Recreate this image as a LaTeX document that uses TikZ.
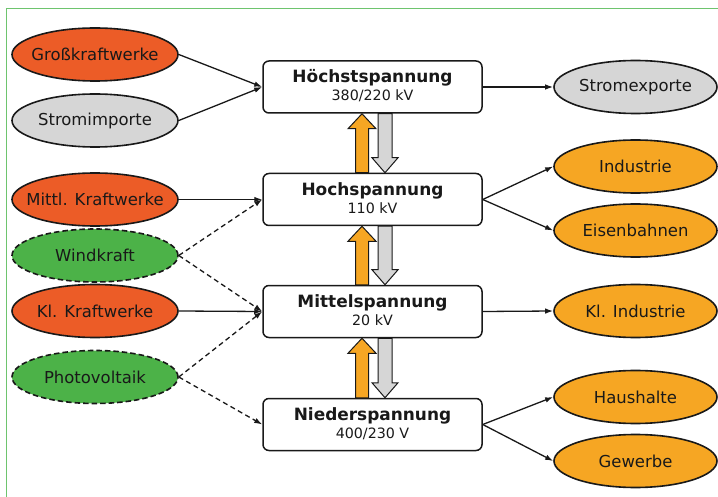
\documentclass[tikz,border=0pt]{standalone}
\usepackage{fontspec}
\setmainfont{DejaVu Sans}
\usetikzlibrary{shapes.geometric,arrows.meta,calc}

\definecolor{plantred}{RGB}{236,92,39}
\definecolor{tradegray}{RGB}{214,214,214}
\definecolor{userorange}{RGB}{246,166,35}
\definecolor{renewgreen}{RGB}{76,178,72}
\definecolor{framegreen}{RGB}{110,196,110}
\definecolor{inkdark}{RGB}{25,25,25}

\tikzset{
  oval/.style={ellipse, draw=inkdark, line width=1.6bp, inner sep=0pt,
    minimum width=166bp, minimum height=53bp},
  ovalr/.style={oval, minimum width=163bp},
  dashedoval/.style={oval, dash pattern=on 5.5bp off 3bp},
  ovaltext/.style={text=inkdark, font=\fontsize{16.5}{19}\selectfont, inner sep=0pt},
  levelbox/.style={rectangle, rounded corners=6bp, draw=inkdark, fill=white,
    line width=1.5bp, minimum width=219bp, minimum height=52bp, inner sep=0pt},
  leveltext/.style={align=center, text=inkdark, inner sep=0pt},
  feed/.style={line width=1.3bp, draw=inkdark, -{Latex[length=8bp,width=5.5bp]}},
  feeddash/.style={feed, dash pattern=on 5bp off 3.5bp},
  blockarrow/.style={draw=inkdark, line width=1bp, line join=miter},
}

% upward block arrow (orange) from the lower box to the upper box
\newcommand{\stepuparrow}[2]{%
  \draw[blockarrow, fill=userorange] let \p1=(#1.north), \p2=(#2.south) in
    (\x1-17bp, \y1) -- (\x1-17bp, \y2-15bp) -- (\x1-24.5bp, \y2-15bp)
    -- (\x1-10.5bp, \y2) -- (\x1+3.5bp, \y2-15bp) -- (\x1-4bp, \y2-15bp)
    -- (\x1-4bp, \y1) -- cycle;}
% downward block arrow (gray) from the upper box to the lower box
\newcommand{\stepdownarrow}[2]{%
  \draw[blockarrow, fill=tradegray] let \p1=(#1.south), \p2=(#2.north) in
    (\x1+5.5bp, \y1) -- (\x1+5.5bp, \y2+15bp) -- (\x1-0.5bp, \y2+15bp)
    -- (\x1+12.5bp, \y2) -- (\x1+25.5bp, \y2+15bp) -- (\x1+19.5bp, \y2+15bp)
    -- (\x1+19.5bp, \y1) -- cycle;}

% title and voltage inside a level box
\newcommand{\leveltxt}[2]{{\fontsize{17}{19}\selectfont\bfseries #1}\\[2.5bp]{\fontsize{14.3}{16}\selectfont #2}}

\begin{document}
\begin{tikzpicture}[x=1bp, y=-1bp]
  \useasboundingbox (0,0) rectangle (718,497);
  \fill[white] (0,0) rectangle (718,497);

  % frame edges
  \draw[framegreen, line width=1bp] (6,497) -- (6,9) -- (718,9);

  % voltage levels
  \node[levelbox] (h1) at (372.5,87) {};
  \node[leveltext] (t1) at ([yshift=1bp]h1.center) {\leveltxt{Höchstspannung}{380/220 kV}};
  \node[levelbox] (h2) at (372.5,199.5) {};
  \node[leveltext] (t2) at ([yshift=1bp]h2.center) {\leveltxt{Hochspannung}{110 kV}};
  \node[levelbox] (h3) at (372.5,311.5) {};
  \node[leveltext] (t3) at ([yshift=1bp]h3.center) {\leveltxt{Mittelspannung}{20 kV}};
  \node[levelbox] (h4) at (372.5,424.5) {};
  \node[leveltext] (t4) at ([yshift=1bp]h4.center) {\leveltxt{Niederspannung}{400/230 V}};

  % sources
  \node[oval, fill=plantred] (gross) at (95,54.5) {};
  \node[ovaltext] at (gross) {Großkraftwerke};
  \node[oval, fill=tradegray] (imp) at (95,120.5) {};
  \node[ovaltext] at (imp) {Stromimporte};
  \node[oval, fill=plantred] (mittl) at (95,199.5) {};
  \node[ovaltext] at (mittl) {Mittl. Kraftwerke};
  \node[dashedoval, fill=renewgreen] (wind) at (95,255.5) {};
  \node[ovaltext] at (wind) {Windkraft};
  \node[oval, fill=plantred] (klkw) at (95,311) {};
  \node[ovaltext] at (klkw) {Kl. Kraftwerke};
  \node[dashedoval, fill=renewgreen] (pv) at (95,377) {};
  \node[ovaltext] at (pv) {Photovoltaik};

  % consumers
  \node[ovalr, fill=tradegray] (exp) at (635.5,87) {};
  \node[ovaltext] at (exp) {Stromexporte};
  \node[ovalr, fill=userorange] (ind) at (635.5,166.5) {};
  \node[ovaltext] at (ind) {Industrie};
  \node[ovalr, fill=userorange] (eis) at (635.5,230.5) {};
  \node[ovaltext] at (eis) {Eisenbahnen};
  \node[ovalr, fill=userorange] (klind) at (635.5,311) {};
  \node[ovaltext] at (klind) {Kl. Industrie};
  \node[ovalr, fill=userorange] (haus) at (635.5,397) {};
  \node[ovaltext] at (haus) {Haushalte};
  \node[ovalr, fill=userorange] (gew) at (635.5,461) {};
  \node[ovaltext] at (gew) {Gewerbe};

  % feed-in
  \draw[feed] (gross.east) -- (h1.west);
  \draw[feed] (imp.east) -- (h1.west);
  \draw[feed] (mittl.east) -- (h2.west);
  \draw[feeddash] (wind.east) -- (h2.west);
  \draw[feeddash] (wind.east) -- (h3.west);
  \draw[feed] (klkw.east) -- (h3.west);
  \draw[feeddash] (pv.east) -- (h3.west);
  \draw[feeddash] (pv.east) -- (h4.west);

  % supply
  \draw[feed] (h1.east) -- (exp.west);
  \draw[feed] (h2.east) -- (ind.west);
  \draw[feed] (h2.east) -- (eis.west);
  \draw[feed] (h3.east) -- (klind.west);
  \draw[feed] (h4.east) -- (haus.west);
  \draw[feed] (h4.east) -- (gew.west);

  % transformation between levels
  \stepuparrow{h2}{h1}
  \stepdownarrow{h1}{h2}
  \stepuparrow{h3}{h2}
  \stepdownarrow{h2}{h3}
  \stepuparrow{h4}{h3}
  \stepdownarrow{h3}{h4}
\end{tikzpicture}
\end{document}
